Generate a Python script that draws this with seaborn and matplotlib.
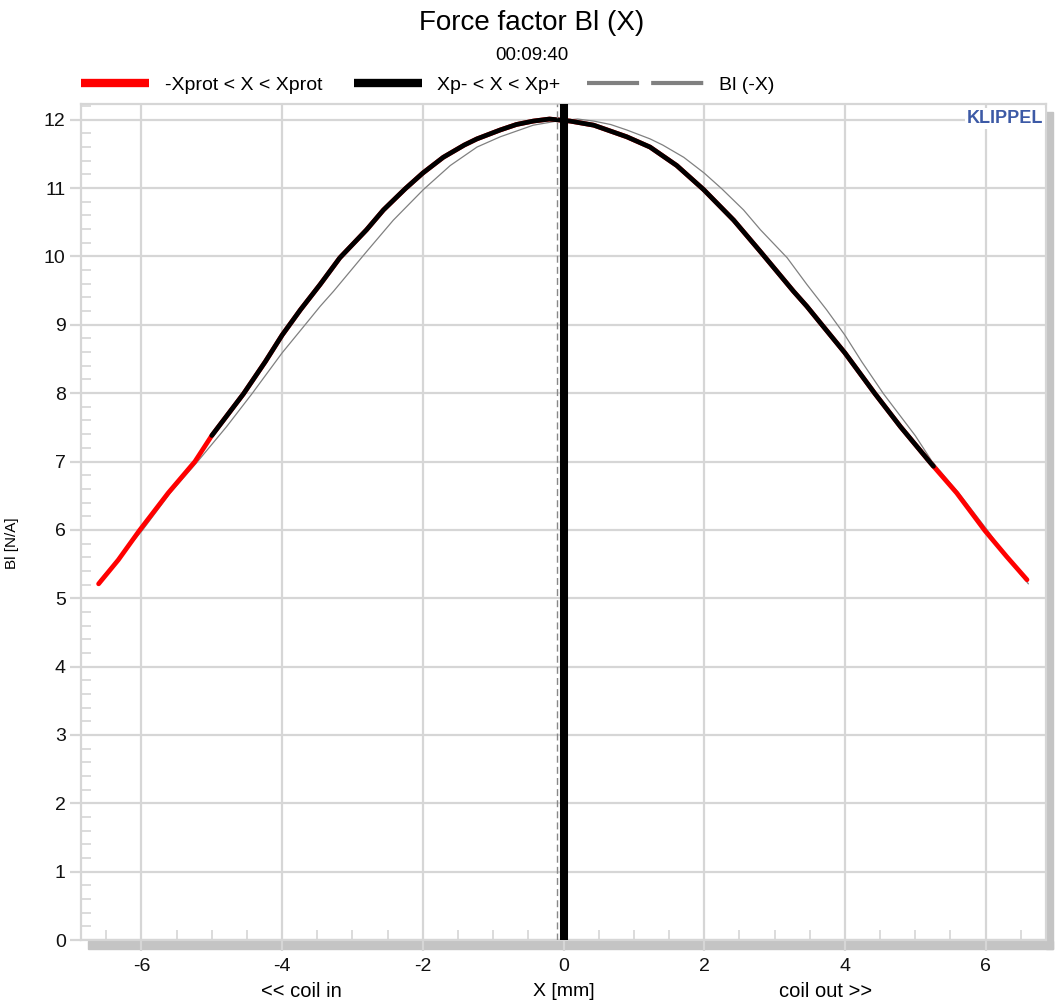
import pandas as pd
import seaborn as sns
import matplotlib.pyplot as plt
from matplotlib.lines import Line2D
from matplotlib.patches import Rectangle
from matplotlib.ticker import MultipleLocator

# Bl(X) curve (X in mm, Bl in N/A)
x_mm = [-6.61, -6.33, -6.03, -5.62, -5.24, -5.0, -4.55, -4.24, -4.0, -3.74, -3.46,
        -3.18, -2.80, -2.56, -2.25, -2.0, -1.71, -1.41, -1.23, -0.90, -0.67, -0.43,
        -0.2, 0.095, 0.43, 0.90, 1.23, 1.61, 1.99, 2.42, 2.80, 3.27, 3.46, 3.65, 4.0,
        4.43, 4.79, 5.21, 5.26, 5.59, 5.99, 6.30, 6.59]
bl = [5.21, 5.56, 5.99, 6.54, 7.0, 7.38, 7.99, 8.46, 8.85, 9.22, 9.59,
      9.98, 10.39, 10.68, 10.99, 11.22, 11.45, 11.63, 11.72, 11.85, 11.93, 11.98,
      12.01, 11.98, 11.92, 11.75, 11.6, 11.33, 10.98, 10.53, 10.07, 9.49, 9.27, 9.03, 8.59,
      7.99, 7.51, 6.99, 6.93, 6.54, 5.99, 5.61, 5.27]
xp_minus, xp_plus = -5.0, 5.26     # Xp- / Xp+ limits
x_rest = 0.0                       # rest position (thick bar)
x_peak = -0.09                     # dashed marker

df = pd.DataFrame({'X': x_mm, 'Bl': bl})
df_p = df[(df['X'] >= xp_minus) & (df['X'] <= xp_plus)]
df_m = pd.DataFrame({'X': [-v for v in x_mm], 'Bl': bl}).sort_values('X')

sns.set_style('white')
plt.rcParams['font.family'] = ['Liberation Sans', 'DejaVu Sans']
plt.rcParams['axes.unicode_minus'] = False
plt.rcParams['text.color'] = 'black'
plt.rcParams['axes.labelcolor'] = 'black'

fig = plt.figure(figsize=(10.63, 10.05), dpi=100)
ax = fig.add_axes([81 / 1063, 1 - 940 / 1005, 965 / 1063, 836 / 1005])

# drop shadow of the plot frame
shade = '#c4c4c4'
fig.add_artist(Rectangle((88 / 1063, 1 - 949 / 1005), 965 / 1063, 8 / 1005,
                         transform=fig.transFigure, color=shade, zorder=0))
fig.add_artist(Rectangle((1046 / 1063, 1 - 949 / 1005), 7 / 1063, 837 / 1005,
                         transform=fig.transFigure, color=shade, zorder=0))

sns.lineplot(data=df_m, x='X', y='Bl', ax=ax, color='#808080', lw=0.9, sort=False, zorder=3)
sns.lineplot(data=df, x='X', y='Bl', ax=ax, color='red', lw=3.4, sort=False, zorder=4)
sns.lineplot(data=df_p, x='X', y='Bl', ax=ax, color='black', lw=3.4, sort=False, zorder=5)
ax.axvline(x_peak, color='#888888', lw=1, ls=(0, (5, 3)), zorder=6)
ax.axvline(x_rest, color='black', lw=5.8, zorder=7)

ax.set_xlim(-6.86, 6.86)
ax.set_ylim(0, 12.23)
ax.xaxis.set_major_locator(MultipleLocator(2))
ax.xaxis.set_minor_locator(MultipleLocator(0.5))
ax.yaxis.set_major_locator(MultipleLocator(1))
ax.yaxis.set_minor_locator(MultipleLocator(0.2))

grid_c = '#d6d6d6'
ax.grid(True, which='major', color=grid_c, lw=1.6)
ax.tick_params(which='both', bottom=True, left=True, top=False, right=False)
ax.tick_params(which='major', direction='out', length=8, width=1.6, color=grid_c,
               labelsize=14, labelcolor='#111111', pad=3)
ax.tick_params(axis='x', which='major', pad=5)
ax.tick_params(which='minor', direction='in', length=7, width=1.2, color=grid_c)
for s in ax.spines.values():
    s.set_color(grid_c)
    s.set_linewidth(1.6)

ax.set_xlabel('X [mm]', fontsize=14)
ax.set_ylabel('Bl [N/A]', fontsize=11)
ax.yaxis.set_label_coords(-0.064, 0.475)
tr = ax.get_xaxis_transform()
ax.text(-3.72, -0.062, '<< coil in', transform=tr, ha='center', va='center', fontsize=14.5)
ax.text(3.72, -0.062, 'coil out >>', transform=tr, ha='center', va='center', fontsize=14.5)
ax.xaxis.set_label_coords(0.5, -0.062)
ax.xaxis.label.set_va('center')

ax.text(0.997, 0.983, 'KLIPPEL', transform=ax.transAxes, ha='right', va='center',
        fontsize=13, fontweight='bold', color='#3d5aa6', zorder=10,
        bbox=dict(facecolor='white', edgecolor='none', pad=1.5))

fig.text(0.5, 0.977, 'Force factor Bl (X)', ha='center', va='center', fontsize=20)
fig.text(0.5, 0.945, '00:09:40', ha='center', va='center', fontsize=13.5)

# legend above the plot: two solid bars, then the longer dashed entry
handles = [Line2D([], [], color='red', lw=6, solid_capstyle='butt'),
           Line2D([], [], color='black', lw=6, solid_capstyle='butt')]
labels = ['-Xprot < X < Xprot', 'Xp- < X < Xp+']
fig.legend(handles, labels, ncol=2, loc='center left', bbox_to_anchor=(0.060, 0.915),
           frameon=False, fontsize=14, handlelength=3.5, handletextpad=0.8,
           columnspacing=1.6)
fig.legend([Line2D([], [], color='#808080', lw=3, ls=(0, (12.5, 2.9)), dash_capstyle='butt')],
           ['Bl (-X)'], loc='center left', bbox_to_anchor=(0.536, 0.915),
           frameon=False, fontsize=14, handlelength=6.0, handletextpad=0.8)

fig.savefig('out.png', dpi=100)
